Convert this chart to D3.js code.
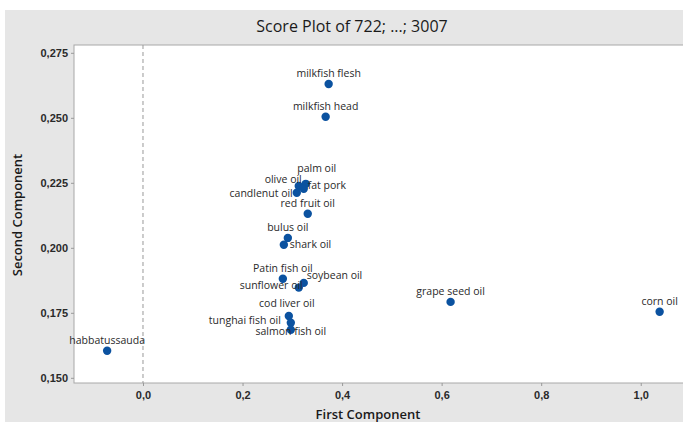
<!DOCTYPE html>
<html><head><meta charset="utf-8">
<script src="https://cdn.jsdelivr.net/npm/d3@7/dist/d3.min.js"></script>
<style>body{margin:0;background:#fff;} svg{display:block;font-family:"Open Sans",sans-serif;}</style>
</head><body><svg id="c" width="683" height="422"></svg>
<script>
const names = ["milkfish flesh","milkfish head","palm oil","olive oil","fat pork","candlenut oil","red fruit oil","bulus oil","shark oil","Patin fish oil","soybean oil","sunflower oil","cod liver oil","tunghai fish oil","salmon fish oil","habbatussauda","grape seed oil","corn oil"];
const firstComp  = [0.373,0.367,0.327,0.313,0.323,0.309,0.331,0.291,0.283,0.281,0.323,0.313,0.293,0.297,0.297,-0.072,0.618,1.038];
const secondComp = [0.2630,0.2504,0.2246,0.2238,0.2227,0.2212,0.2131,0.2038,0.2012,0.1881,0.1865,0.1847,0.1738,0.1712,0.1685,0.1604,0.1792,0.1754];
const xTicks = [0.0,0.2,0.4,0.6,0.8,1.0];
const yTicks = [0.150,0.175,0.200,0.225,0.250,0.275];

// label placement (anchor, dx, dy) for crowded points
const labelPlace = {
  "palm oil":["middle",11,-12], "olive oil":["end",3,-3], "fat pork":["start",4,0],
  "candlenut oil":["end",-4,4], "shark oil":["start",6,3], "soybean oil":["start",3,-4],
  "sunflower oil":["end",4,1], "cod liver oil":["middle",-2,-9], "tunghai fish oil":["end",-10,1],
  "salmon fish oil":["middle",0,5]
};

const svg = d3.select("#c");
const L=74, T=45, R=690, B=383;
svg.append("rect").attr("x",5).attr("y",10).attr("width",678).attr("height",412).attr("fill","#e6e6e6");
svg.append("rect").attr("x",L).attr("y",T).attr("width",R-L).attr("height",B-T).attr("fill","#fff").attr("stroke","#a8a8a8").attr("stroke-width",1);

const x = d3.scaleLinear().domain([-0.1386,1.099]).range([L,R]);
const y = d3.scaleLinear().domain([0.148,0.278]).range([B,T]);
const fmt = d => d3.format(".1f")(d).replace(".",",");
const fmtY = d => d3.format(".3f")(d).replace(".",",");

const xa = svg.append("g").attr("transform",`translate(0,${B})`).call(d3.axisBottom(x).tickValues(xTicks).tickFormat(fmt).tickSize(3).tickPadding(5));
const ya = svg.append("g").attr("transform",`translate(${L},0)`).call(d3.axisLeft(y).tickValues(yTicks).tickFormat(fmtY).tickSize(3).tickPadding(3));
[xa,ya].forEach(a=>{a.select(".domain").remove(); a.selectAll("line").attr("stroke","#999"); a.selectAll("text").attr("fill","#2a2a2a").attr("font-size","11px").attr("font-weight","600");});

svg.append("line").attr("x1",x(0)).attr("x2",x(0)).attr("y1",T).attr("y2",B).attr("stroke","#999").attr("stroke-dasharray","4,3");

svg.append("text").attr("x",352).attr("y",32).attr("text-anchor","middle").attr("font-size","16px").attr("font-weight","500").attr("fill","#1a1a1a").text("Score Plot of 722; ...; 3007");
svg.append("text").attr("x",368).attr("y",419).attr("text-anchor","middle").attr("font-size","13px").attr("font-weight","600").attr("fill","#1a1a1a").text("First Component");
svg.append("text").attr("transform","translate(22,215) rotate(-90)").attr("text-anchor","middle").attr("font-size","13px").attr("font-weight","600").attr("fill","#1a1a1a").text("Second Component");

const data = names.map((n,i)=>({n, x:firstComp[i], y:secondComp[i]}));
svg.append("g").selectAll("circle").data(data).join("circle")
  .attr("cx",d=>x(d.x)).attr("cy",d=>y(d.y)).attr("r",4.2).attr("fill","#0b52a0");
svg.append("g").selectAll("text").data(data).join("text")
  .attr("x",d=>x(d.x)+(labelPlace[d.n]?labelPlace[d.n][1]:0))
  .attr("y",d=>y(d.y)+(labelPlace[d.n]?labelPlace[d.n][2]:-7))
  .attr("text-anchor",d=>labelPlace[d.n]?labelPlace[d.n][0]:"middle")
  .attr("font-size","10.5px").attr("fill","#2a2a2a").text(d=>d.n);
</script></body></html>
